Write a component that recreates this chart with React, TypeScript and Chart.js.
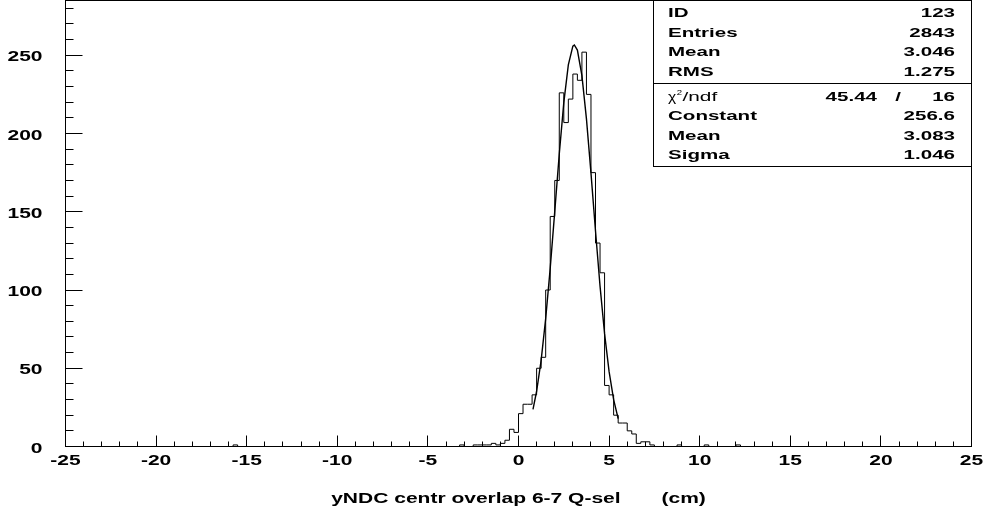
import React, { useEffect, useRef } from "react";
import { Chart, registerables } from "chart.js";
Chart.register(...registerables);

// ---- data ----
const X_MIN = -25;
const X_MAX = 25;
const Y_MAX = 285;
const BIN_WIDTH = 0.25;
const coreStart = -3.25; // low edge of the first bin in coreCounts
const coreCounts = [
  1, 0, 0, 1, 1, 1, 1, 2, 1, 2, 4, 11, 9, 21, 27, 27, 33, 50, 57, 100, 147, 170,
  226, 207, 222, 238, 234, 252, 225, 175, 130, 111, 39, 33, 20, 15, 15, 10, 8, 2,
  3, 3, 1,
];
const isolatedLowEdges = [-15.75, 8.75, 10.25, 12.0];
const isolatedCounts = [1, 1, 1, 1];

const fitX = [0.8, 1.0, 1.25, 1.5, 1.75, 2.0, 2.25, 2.5, 2.75, 3.0, 3.083, 3.25, 3.5, 3.75, 4.0, 4.25, 4.5, 4.75, 5.0, 5.25, 5.5];
const fitY = [23.7, 35.3, 55.2, 81.7, 113.9, 150.1, 186.9, 219.7, 243.9, 255.8, 256.6, 253.3, 237.0, 209.4, 174.7, 137.7, 102.5, 72.1, 47.8, 30.0, 17.8];

const xMajorTicks = [-25, -20, -15, -10, -5, 0, 5, 10, 15, 20, 25];
const xMinorStep = 1;
const yMajorTicks = [0, 50, 100, 150, 200, 250];
const yMinorStep = 10;
const xTitle = "yNDC centr overlap 6-7 Q-sel       (cm)";

const statLabels = ["ID", "Entries", "Mean", "RMS"];
const statValues = ["123", "2843", "3.046", "1.275"];
const chi2Value = "45.44";
const ndfValue = "16";
const fitLabels = ["Constant", "Mean", "Sigma"];
const fitValues = ["256.6", "3.083", "1.046"];

// ---- helpers ----
function sText(ctx: CanvasRenderingContext2D, text: string, x: number, y: number, align: CanvasTextAlign, font: string, stretch: number, baseline: CanvasTextBaseline = "alphabetic") {
  ctx.save();
  ctx.font = font;
  ctx.textAlign = align;
  ctx.textBaseline = baseline;
  ctx.translate(x, y);
  ctx.scale(stretch, 1);
  ctx.fillText(text, 0, 0);
  ctx.restore();
}
function sWidth(ctx: CanvasRenderingContext2D, text: string, font: string, stretch: number) {
  ctx.save();
  ctx.font = font;
  const w = ctx.measureText(text).width * stretch;
  ctx.restore();
  return w;
}

const AX_FONT = 'bold 14px "Liberation Sans", Arial, sans-serif';
const AX_STRETCH = 1.5;
const ST_FONT = 'bold 13px "Liberation Sans", Arial, sans-serif';
const ST_NORMAL = '13px "Liberation Sans", Arial, sans-serif';
const ST_SMALL = '8px "Liberation Sans", Arial, sans-serif';
const ST_STRETCH = 1.58;

const rootPlugin = {
  id: "rootStyle",
  afterDraw(chart: any) {
    const { ctx, chartArea: a, scales } = chart;
    const xs = scales.x;
    const ys = scales.y;
    ctx.save();
    ctx.strokeStyle = "#000";
    ctx.fillStyle = "#000";
    ctx.lineWidth = 1;

    // frame
    ctx.strokeRect(a.left, a.top, a.right - a.left, a.bottom - a.top);

    // x ticks
    for (let v = X_MIN; v <= X_MAX; v += xMinorStep) {
      const px = Math.round(xs.getPixelForValue(v) - 0.5) + 0.5;
      const major = xMajorTicks.includes(v);
      ctx.beginPath();
      ctx.moveTo(px, a.bottom);
      ctx.lineTo(px, a.bottom - (major ? 11 : 5));
      ctx.stroke();
    }
    // y ticks
    for (let v = 0; v <= Y_MAX; v += yMinorStep) {
      const py = Math.round(ys.getPixelForValue(v) - 0.5) + 0.5;
      const major = yMajorTicks.includes(v);
      ctx.beginPath();
      ctx.moveTo(a.left, py);
      ctx.lineTo(a.left + (major ? 17 : 8), py);
      ctx.stroke();
    }

    // tick labels
    for (const v of xMajorTicks) {
      sText(ctx, String(v), xs.getPixelForValue(v), 465, "center", AX_FONT, AX_STRETCH);
    }
    for (const v of yMajorTicks) {
      sText(ctx, String(v), 42.5, ys.getPixelForValue(v) + 6, "right", AX_FONT, AX_STRETCH);
    }
    // axis title
    sText(ctx, xTitle, (a.left + a.right) / 2, 503, "center", AX_FONT, AX_STRETCH);

    // stats box
    const bx = 653.5, by = a.top, bw = a.right - 653.5, bh = 166;
    ctx.fillStyle = "#fff";
    ctx.fillRect(bx, by, bw, bh);
    ctx.fillStyle = "#000";
    ctx.strokeRect(bx, by, bw, bh);
    ctx.beginPath();
    ctx.moveTo(bx, 83.5);
    ctx.lineTo(bx + bw, 83.5);
    ctx.stroke();

    const lx = 668, rx = 955;
    const rowBase1 = [16.7, 36.5, 56.3, 76.1];
    statLabels.forEach((t, i) => {
      sText(ctx, t, lx, rowBase1[i], "left", ST_FONT, ST_STRETCH);
      sText(ctx, statValues[i], rx, rowBase1[i], "right", ST_FONT, ST_STRETCH);
    });
    // chi2 / ndf row
    const cb = 100.5;
    let cx = lx;
    sText(ctx, "\u03C7", cx, cb, "left", ST_NORMAL, 1.2);
    cx += sWidth(ctx, "\u03C7", ST_NORMAL, 1.2) + 0.5;
    sText(ctx, "2", cx, cb - 6, "left", ST_SMALL, 1.2);
    cx += sWidth(ctx, "2", ST_SMALL, 1.2) + 0.5;
    sText(ctx, "/ndf", cx, cb, "left", ST_NORMAL, 1.6);
    sText(ctx, chi2Value, 877, cb, "right", ST_FONT, ST_STRETCH);
    sText(ctx, "/", 898, cb, "center", ST_FONT, ST_STRETCH);
    sText(ctx, ndfValue, rx, cb, "right", ST_FONT, ST_STRETCH);
    const rowBase2 = [119.7, 139.5, 159.3];
    fitLabels.forEach((t, i) => {
      sText(ctx, t, lx, rowBase2[i], "left", ST_FONT, ST_STRETCH);
      sText(ctx, fitValues[i], rx, rowBase2[i], "right", ST_FONT, ST_STRETCH);
    });

    ctx.restore();
  },
};

function buildHistogram() {
  const nBins = Math.round((X_MAX - X_MIN) / BIN_WIDTH);
  const bins = new Array(nBins).fill(0);
  const startIdx = Math.round((coreStart - X_MIN) / BIN_WIDTH);
  coreCounts.forEach((c, i) => (bins[startIdx + i] = c));
  isolatedLowEdges.forEach((e, i) => {
    bins[Math.round((e - X_MIN) / BIN_WIDTH)] = isolatedCounts[i];
  });
  const pts = bins.map((c, i) => ({ x: X_MIN + i * BIN_WIDTH, y: c }));
  pts.push({ x: X_MAX, y: 0 });
  return pts;
}

export default function App() {
  const ref = useRef<HTMLCanvasElement>(null);
  useEffect(() => {
    if (!ref.current) return;
    const chart = new Chart(ref.current, {
      type: "line",
      data: {
        datasets: [
          {
            data: buildHistogram(),
            borderColor: "#000",
            borderWidth: 1,
            pointRadius: 0,
            stepped: "before",
            fill: false,
          },
          {
            data: fitX.map((x, i) => ({ x, y: fitY[i] })),
            borderColor: "#000",
            borderWidth: 1.4,
            pointRadius: 0,
            tension: 0,
            fill: false,
          },
        ],
      },
      options: {
        responsive: false,
        animation: false,
        devicePixelRatio: 1,
        events: [],
        layout: { padding: { left: 65.5, right: 13.5, top: 0.5, bottom: 65.5 } },
        plugins: { legend: { display: false }, tooltip: { enabled: false } },
        scales: {
          x: { type: "linear", min: X_MIN, max: X_MAX, display: false },
          y: { type: "linear", min: 0, max: Y_MAX, display: false },
        },
      },
      plugins: [rootPlugin],
    });
    return () => chart.destroy();
  }, []);
  return (
    <div style={{ position: "absolute", left: 0, top: 0, width: 985, height: 512, background: "#fff" }}>
      <canvas ref={ref} width={985} height={512} style={{ display: "block" }} />
    </div>
  );
}
